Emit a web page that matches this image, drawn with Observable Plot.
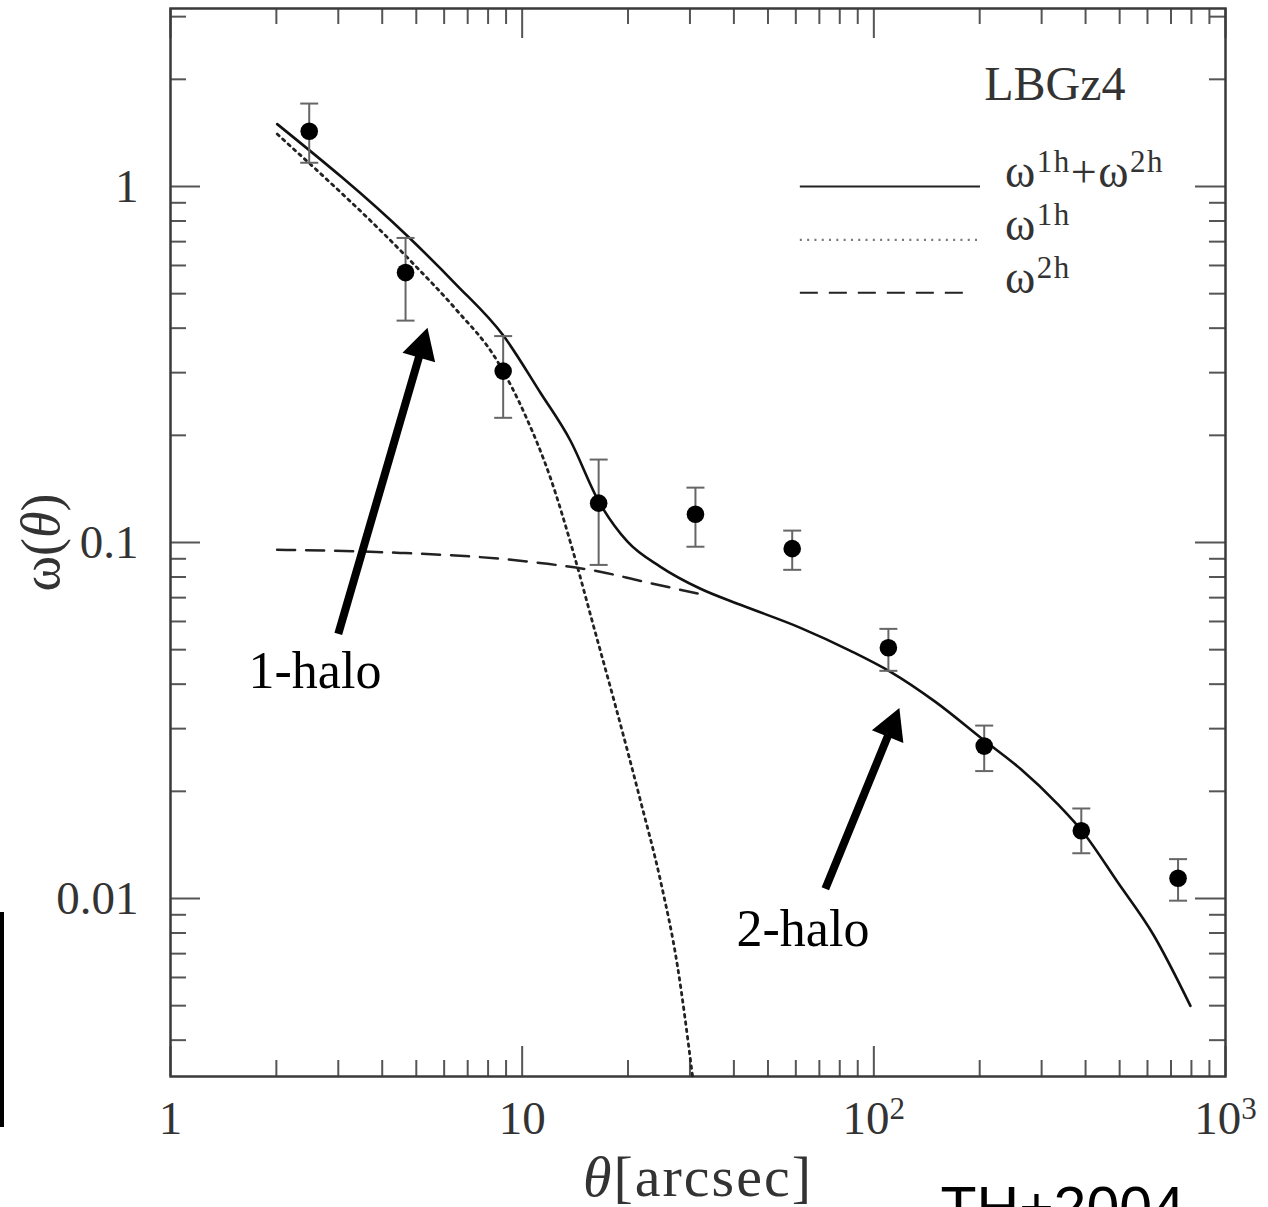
<!DOCTYPE html>
<html><head><meta charset="utf-8">
<script src="https://cdn.jsdelivr.net/npm/d3@7"></script>
<script src="https://cdn.jsdelivr.net/npm/@observablehq/plot@0.6"></script>
<style>
html,body{margin:0;padding:0;background:#fff;}
#wrap{position:relative;width:1268px;height:1207px;overflow:hidden;}
#bar{position:absolute;left:0;top:912px;width:4px;height:215px;background:#000;}
</style></head><body><div id="wrap"><div id="bar"></div></div>
<script>
// ---- observed w(theta) with error bars ----
const thetaObs = [2.48, 4.66, 8.83, 16.5, 31.1, 58.6, 110, 206, 389, 733];
const wObs     = [1.43, 0.573, 0.303, 0.129, 0.120, 0.0961, 0.0506, 0.0268, 0.0155, 0.0114];
const wHi      = [1.71, 0.717, 0.38, 0.171, 0.1426, 0.108, 0.0572, 0.0306, 0.0179, 0.0129];
const wLo      = [1.166, 0.42, 0.224, 0.0865, 0.0973, 0.0838, 0.0436, 0.0228, 0.0134, 0.00986];

// ---- model: total (1h + 2h) ----
const thetaTotal = [2.011, 4.71, 6.46, 8.85, 11.27, 13.72, 16.48, 19.93, 24.74, 32.14, 41.75, 61.84, 85.81, 111.5, 149.7, 204.9, 261.1, 332.7, 394.5, 492.7, 623.7, 794.8];
const wTotal     = [1.497, 0.727, 0.533, 0.3807, 0.2634, 0.1931, 0.1309, 0.1005, 0.08545, 0.07413, 0.06683, 0.05758, 0.04963, 0.04333, 0.03568, 0.02791, 0.02314, 0.01845, 0.0153, 0.01114, 0.00791, 0.004994];

// ---- model: 1-halo term ----
const theta1h = [2.011, 4.813, 6.462, 8.489, 10.22, 12.03, 13.99, 15.95, 18.42, 21.70, 24.74, 27.64, 30.50];
const w1h     = [1.4036, 0.6184, 0.4533, 0.3239, 0.2270, 0.1520, 0.09357, 0.05834, 0.03477, 0.01881, 0.01121, 0.006471, 0.003177];

// ---- model: 2-halo term ----
const theta2h = [2.01, 4.50, 8.66, 11.8, 16.66, 21.7, 33.6];
const w2h     = [0.0954, 0.0935, 0.090, 0.0871, 0.0828, 0.078, 0.0709];

// ---- axis ticks ----
const xMajor = [1, 10, 100, 1000];
const xMinor = [2,3,4,5,6,7,8,9,20,30,40,50,60,70,80,90,200,300,400,500,600,700,800,900];
const yMajor = [0.01, 0.1, 1];
const yMinor = [0.004,0.005,0.006,0.007,0.008,0.009,0.02,0.03,0.04,0.05,0.06,0.07,0.08,0.09,0.2,0.3,0.4,0.5,0.6,0.7,0.8,0.9,2,3];
const xTickLabels = ["1", "10", "10²", "10³"];
const yTickLabels = ["0.01", "0.1", "1"];

// ---- legend and annotations ----
const legendLabels = ["ω¹ʰ+ω²ʰ", "ω¹ʰ", "ω²ʰ"];
const legendY = [1.0, 0.708, 0.503];
const legendX = [61.8, 201];
const legendTextX = 236;
const arrowTail = [[3.0, 0.0554], [72.8, 0.01065]];
const arrowTip  = [[5.38, 0.401], [118.2, 0.0343]];
const annLabels = ["1-halo", "2-halo"];
const annPos = [[1.667, 0.0391], [40.7, 0.00736]];

const W = 1268, H = 1207, mL = 170, mR = 43, mT = 8, mB = 131;
const innerW = W - mL - mR, innerH = H - mT - mB;
const yDomain = [Math.pow(10, -2.5), Math.pow(10, 0.5)];
const xs = d3.scaleLog([1, 1000], [mL, W - mR]);
const ys = d3.scaleLog(yDomain, [H - mB, mT]);

const obs = thetaObs.map((t, i) => ({theta: t, w: wObs[i], lo: wLo[i], hi: wHi[i]}));
const total = thetaTotal.map((t, i) => ({theta: t, w: wTotal[i]}));
const one = theta1h.map((t, i) => ({theta: t, w: w1h[i]}));
const two = theta2h.map((t, i) => ({theta: t, w: w2h[i]}));
const xLab = xMajor.map((v, i) => ({v, label: xTickLabels[i]}));
const yLab = yMajor.map((v, i) => ({v, label: yTickLabels[i]}));
const legend = legendLabels.map((l, i) => ({label: l, y: legendY[i], x1: legendX[0], x2: legendX[1] * (i === 2 ? 0.95 : 1)}));

const HEAD_L = 31, HEAD_HW = 17;
const arrows = arrowTail.map((t, i) => {
  const tip = arrowTip[i];
  const px1 = xs(t[0]), py1 = ys(t[1]), px2 = xs(tip[0]), py2 = ys(tip[1]);
  const len = Math.hypot(px2 - px1, py2 - py1);
  const ux = (px2 - px1) / len, uy = (py2 - py1) / len;
  const bx = px2 - ux * (HEAD_L - 2), by = py2 - uy * (HEAD_L - 2);
  const angle = Math.atan2(ux, -uy) * 180 / Math.PI;
  return {x1: t[0], y1: t[1], x2: tip[0], y2: tip[1], bx: xs.invert(bx), by: ys.invert(by), angle};
});
const ann = annLabels.map((l, i) => ({label: l, x: annPos[i][0], y: annPos[i][1]}));

const capSymbol = {draw(ctx, size) { const r = Math.sqrt(size / Math.PI); ctx.moveTo(-r, 0); ctx.lineTo(r, 0); }};
const headSymbol = {draw(ctx) { ctx.moveTo(0, 0); ctx.lineTo(-HEAD_HW, HEAD_L); ctx.lineTo(HEAD_HW, HEAD_L); ctx.closePath(); }};

const serif = "Liberation Serif, Times New Roman, serif";
const tickStroke = "#555";

const chart = Plot.plot({
  width: W, height: H,
  marginLeft: mL, marginRight: mR, marginTop: mT, marginBottom: mB,
  x: {type: "log", domain: [1, 1000], axis: null},
  y: {type: "log", domain: yDomain, axis: null},
  style: {background: "white", overflow: "hidden"},
  marks: [
    // ticks, inward on all sides
    Plot.tickX(xMajor, {x: d => d, insetTop: innerH - 30, stroke: tickStroke, strokeWidth: 2}),
    Plot.tickX(xMajor, {x: d => d, insetBottom: innerH - 30, stroke: tickStroke, strokeWidth: 2}),
    Plot.tickX(xMinor, {x: d => d, insetTop: innerH - 16, stroke: tickStroke, strokeWidth: 2}),
    Plot.tickX(xMinor, {x: d => d, insetBottom: innerH - 16, stroke: tickStroke, strokeWidth: 2}),
    Plot.tickY(yMajor, {y: d => d, insetRight: innerW - 30, stroke: tickStroke, strokeWidth: 2}),
    Plot.tickY(yMajor, {y: d => d, insetLeft: innerW - 30, stroke: tickStroke, strokeWidth: 2}),
    Plot.tickY(yMinor, {y: d => d, insetRight: innerW - 16, stroke: tickStroke, strokeWidth: 2}),
    Plot.tickY(yMinor, {y: d => d, insetLeft: innerW - 16, stroke: tickStroke, strokeWidth: 2}),
    Plot.frame({stroke: "#3a3a3a", strokeWidth: 2.5}),
    // tick labels
    Plot.text(xLab, {x: "v", text: "label", frameAnchor: "bottom", textAnchor: "middle", lineAnchor: "bottom", dy: 57, fontSize: 47, fontFamily: serif, fill: "#333"}),
    Plot.text(yLab, {y: "v", text: "label", frameAnchor: "left", textAnchor: "end", lineAnchor: "middle", dx: -32, fontSize: 47, fontFamily: serif, fill: "#333"}),
    // axis titles
    Plot.text(["θ[arcsec]"], {frameAnchor: "bottom", textAnchor: "middle", lineAnchor: "bottom", dy: 119, fontSize: 58, fontFamily: serif, fill: "#333"}),
    Plot.text(["ω(θ)"], {frameAnchor: "left", textAnchor: "middle", rotate: -90, lineAnchor: "bottom", dx: -112, fontSize: 54, fontFamily: serif, fill: "#333"}),
    // panel label
    Plot.text(["LBGz4"], {frameAnchor: "top-right", textAnchor: "end", lineAnchor: "bottom", dx: -100, dy: 91, fontSize: 48, fontFamily: serif, fill: "#333"}),
    // model curves
    Plot.line(two, {x: "theta", y: "w", stroke: "#222", strokeWidth: 2.5, strokeDasharray: "18,11", curve: "monotone-x"}),
    Plot.line(one, {x: "theta", y: "w", stroke: "#222", strokeWidth: 2.8, strokeDasharray: "2.6,4.8", curve: "monotone-x"}),
    Plot.line(total, {x: "theta", y: "w", stroke: "#111", strokeWidth: 2.6, curve: "monotone-x"}),
    // data
    Plot.ruleX(obs, {x: "theta", y1: "lo", y2: "hi", stroke: "#666", strokeWidth: 2}),
    Plot.dot(obs, {x: "theta", y: "hi", symbol: capSymbol, r: 9, stroke: "#666", fill: "none", strokeWidth: 2}),
    Plot.dot(obs, {x: "theta", y: "lo", symbol: capSymbol, r: 9, stroke: "#666", fill: "none", strokeWidth: 2}),
    Plot.dot(obs, {x: "theta", y: "w", r: 8.8, fill: "black"}),
    // legend
    Plot.ruleY(legend.slice(0, 1), {y: "y", x1: "x1", x2: "x2", stroke: "#222", strokeWidth: 2}),
    Plot.ruleY(legend.slice(1, 2), {y: "y", x1: "x1", x2: "x2", stroke: "#777", strokeWidth: 2.2, strokeDasharray: "2,5.3"}),
    Plot.ruleY(legend.slice(2, 3), {y: "y", x1: "x1", x2: "x2", stroke: "#222", strokeWidth: 2, strokeDasharray: "18,11"}),
    Plot.text(legend, {x: () => legendTextX, y: "y", text: "label", textAnchor: "start", lineAnchor: "bottom", fontSize: 46, fontFamily: serif, fill: "#333"}),
    // annotations
    Plot.link(arrows, {x1: "x1", y1: "y1", x2: "bx", y2: "by", stroke: "black", strokeWidth: 8}),
    Plot.dot(arrows, {x: "x2", y: "y2", symbol: headSymbol, rotate: "angle", fill: "black", r: 10}),
    Plot.text(ann, {x: "x", y: "y", text: "label", textAnchor: "start", lineAnchor: "bottom", fontSize: 52, fontFamily: serif, fill: "black"}),
    Plot.text(["TH+2004"], {frameAnchor: "bottom-right", textAnchor: "start", lineAnchor: "bottom", dx: -285, dy: 151, fontSize: 59, fontFamily: "Liberation Sans, Arial, sans-serif", fill: "black"})
  ]
});

// typographic touch-ups: real superscripts and italic theta
const supMap = {"¹": "1", "²": "2", "³": "3", "ʰ": "h"};
const NS = "http://www.w3.org/2000/svg";
d3.select(chart).selectAll("text").each(function() {
  const s = this.textContent;
  const chars = [...s];
  if (!chars.some(c => c in supMap || c === "θ")) return;
  const fs = parseFloat(this.getAttribute("font-size") || getComputedStyle(this).fontSize) || 46;
  const supSize = Math.round(fs * 0.68), rise = Math.round(fs * 0.33);
  const groups = [];
  for (const c of chars) {
    const kind = c in supMap ? "sup" : c === "θ" ? "it" : "n";
    const ch = kind === "sup" ? supMap[c] : c;
    const last = groups[groups.length - 1];
    if (last && last.kind === kind) last.str += ch; else groups.push({kind, str: ch});
  }
  this.textContent = "";
  let shifted = 0;
  for (const g of groups) {
    const t = document.createElementNS(NS, "tspan");
    t.textContent = g.str;
    if (g.kind === "sup") { t.setAttribute("font-size", supSize); t.setAttribute("dy", -rise); shifted += rise; }
    else { if (shifted) { t.setAttribute("dy", shifted); shifted = 0; } if (g.kind === "it") t.setAttribute("font-style", "italic"); }
    this.appendChild(t);
  }
});
d3.select(chart).selectAll("text").filter(function() { return this.textContent === "θ[arcsec]"; }).attr("letter-spacing", "2px");
d3.select(chart).selectAll("text").filter(function() { return /^ω[0-9h+ω]+$/.test(this.textContent); }).attr("letter-spacing", "1.5px");
document.getElementById("wrap").prepend(chart);
</script>
</body></html>
